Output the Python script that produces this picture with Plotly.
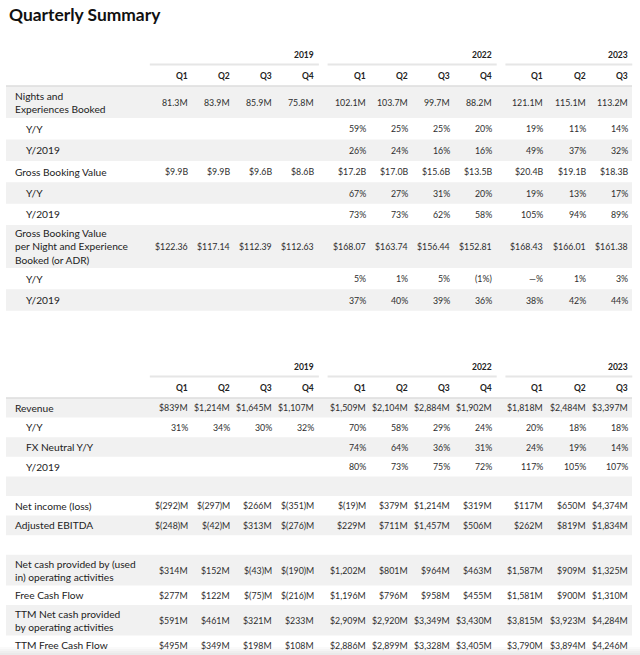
import plotly.graph_objects as go

# column headers
years = ["2019", "2022", "2023"]
year_quarters = [["Q1", "Q2", "Q3", "Q4"], ["Q1", "Q2", "Q3", "Q4"], ["Q1", "Q2", "Q3"]]

# table 1: bookings
nights_booked = ["81.3M", "83.9M", "85.9M", "75.8M", "102.1M", "103.7M", "99.7M", "88.2M", "121.1M", "115.1M", "113.2M"]
nights_yy = ["", "", "", "", "59%", "25%", "25%", "20%", "19%", "11%", "14%"]
nights_y2019 = ["", "", "", "", "26%", "24%", "16%", "16%", "49%", "37%", "32%"]
gbv = ["$9.9B", "$9.9B", "$9.6B", "$8.6B", "$17.2B", "$17.0B", "$15.6B", "$13.5B", "$20.4B", "$19.1B", "$18.3B"]
gbv_yy = ["", "", "", "", "67%", "27%", "31%", "20%", "19%", "13%", "17%"]
gbv_y2019 = ["", "", "", "", "73%", "73%", "62%", "58%", "105%", "94%", "89%"]
adr = ["$122.36", "$117.14", "$112.39", "$112.63", "$168.07", "$163.74", "$156.44", "$152.81", "$168.43", "$166.01", "$161.38"]
adr_yy = ["", "", "", "", "5%", "1%", "5%", "(1%)", "—%", "1%", "3%"]
adr_y2019 = ["", "", "", "", "37%", "40%", "39%", "36%", "38%", "42%", "44%"]

# table 2: financials
revenue = ["$839M", "$1,214M", "$1,645M", "$1,107M", "$1,509M", "$2,104M", "$2,884M", "$1,902M", "$1,818M", "$2,484M", "$3,397M"]
revenue_yy = ["31%", "34%", "30%", "32%", "70%", "58%", "29%", "24%", "20%", "18%", "18%"]
revenue_fx_yy = ["", "", "", "", "74%", "64%", "36%", "31%", "24%", "19%", "14%"]
revenue_y2019 = ["", "", "", "", "80%", "73%", "75%", "72%", "117%", "105%", "107%"]
net_income = ["$(292)M", "$(297)M", "$266M", "$(351)M", "$(19)M", "$379M", "$1,214M", "$319M", "$117M", "$650M", "$4,374M"]
adj_ebitda = ["$(248)M", "$(42)M", "$313M", "$(276)M", "$229M", "$711M", "$1,457M", "$506M", "$262M", "$819M", "$1,834M"]
op_cash = ["$314M", "$152M", "$(43)M", "$(190)M", "$1,202M", "$801M", "$964M", "$463M", "$1,587M", "$909M", "$1,325M"]
fcf = ["$277M", "$122M", "$(75)M", "$(216)M", "$1,196M", "$796M", "$958M", "$455M", "$1,581M", "$900M", "$1,310M"]
ttm_op_cash = ["$591M", "$461M", "$321M", "$233M", "$2,909M", "$2,920M", "$3,349M", "$3,430M", "$3,815M", "$3,923M", "$4,284M"]
ttm_fcf = ["$495M", "$349M", "$198M", "$108M", "$2,886M", "$2,899M", "$3,328M", "$3,405M", "$3,790M", "$3,894M", "$4,246M"]

empty = [""] * 11

# (label, values, indented)
table1 = [
    ("Nights and<br>Experiences Booked", nights_booked, False),
    ("Y/Y", nights_yy, True),
    ("Y/2019", nights_y2019, True),
    ("Gross Booking Value", gbv, False),
    ("Y/Y", gbv_yy, True),
    ("Y/2019", gbv_y2019, True),
    ("Gross Booking Value<br>per Night and Experience<br>Booked (or ADR)", adr, False),
    ("Y/Y", adr_yy, True),
    ("Y/2019", adr_y2019, True),
]
table2 = [
    ("Revenue", revenue, False),
    ("Y/Y", revenue_yy, True),
    ("FX Neutral Y/Y", revenue_fx_yy, True),
    ("Y/2019", revenue_y2019, True),
    ("", empty, False),
    ("Net income (loss)", net_income, False),
    ("Adjusted EBITDA", adj_ebitda, False),
    ("", empty, False),
    ("Net cash provided by (used<br>in) operating activities", op_cash, False),
    ("Free Cash Flow", fcf, False),
    ("TTM Net cash provided<br>by operating activities", ttm_op_cash, False),
    ("TTM Free Cash Flow", ttm_fcf, False),
]

FONT = "Lato"
GRAY = "#f1f1f1"
LEFT, RIGHT = 6, 632
COL_W, GROUP_GAP, FIRST_RIGHT = 42.2, 9.0, 188.8

# right edge of each quarter column
col_right = []
group_cols = []
x = FIRST_RIGHT
for g, qs in enumerate(year_quarters):
    cols = []
    for q in qs:
        cols.append(x)
        x += COL_W
    x += GROUP_GAP
    group_cols.append(cols)
    col_right.extend(cols)

fig = go.Figure()
shapes = []
annotations = []


def txt(x, y, text, size, color="#222", bold=False, anchor="right", family=FONT):
    if bold:
        text = "<b>" + text + "</b>"
    annotations.append(dict(
        x=x, y=y, xref="x", yref="y", text=text, showarrow=False,
        xanchor=anchor, yanchor="middle", align="left",
        font=dict(family=family, size=size, color=color),
    ))


def draw_table(rows, top, single_h, line_h):
    # year header + underline
    for yr, cols in zip(years, group_cols):
        txt(cols[-1] + 1, top + 10, yr, 8.5, bold=True)
        shapes.append(dict(type="line", x0=cols[0] - 39, x1=cols[-1] + 3.5,
                           y0=top + 19.5, y1=top + 19.5, line=dict(color="#e6e6e6", width=2)))
    # quarter header
    for qs, cols in zip(year_quarters, group_cols):
        for q, cx in zip(qs, cols):
            txt(cx + 1, top + 31, q, 8.5, bold=True)
    y = top + 41
    shapes.append(dict(type="line", x0=LEFT, x1=RIGHT, y0=y, y1=y,
                       line=dict(color="#dcdcdc", width=1.5)))
    for i, (label, vals, indent) in enumerate(rows):
        n = label.count("<br>") + 1
        h = single_h + (n - 1) * line_h
        if i % 2 == 0:
            shapes.append(dict(type="rect", x0=LEFT, x1=RIGHT, y0=y, y1=y + h,
                               fillcolor=GRAY, line=dict(width=0), layer="below"))
        mid = y + h / 2
        if label:
            txt(24 if indent else 13, mid, label, 10.2, anchor="left")
        for v, cx in zip(vals, col_right):
            if v:
                txt(cx + 1, mid, v, 8.8, color="#2e2e2e")
        y += h
    return y


draw_table(table1, 45, 21.4, 10.7)
draw_table(table2, 357, 19.6, 11.0)

# soft shadow at the bottom edge
for k, c in enumerate(["#fafafa", "#f5f5f5", "#efefef", "#eaeaea"]):
    shapes.append(dict(type="rect", x0=0, x1=640, y0=647 + 2 * k, y1=655,
                       fillcolor=c, line=dict(width=0), layer="below"))

txt(7, 14, "Quarterly Summary", 17.4, color="#111", bold=True, anchor="left")

fig.add_trace(go.Scatter(x=[0, 640], y=[0, 655], mode="markers",
                         marker=dict(opacity=0), hoverinfo="skip", showlegend=False))
fig.update_layout(
    width=640, height=655,
    margin=dict(l=0, r=0, t=0, b=0),
    paper_bgcolor="white", plot_bgcolor="white",
    xaxis=dict(range=[0, 640], visible=False, fixedrange=True),
    yaxis=dict(range=[655, 0], visible=False, fixedrange=True),
    shapes=shapes, annotations=annotations,
    showlegend=False,
)
# drop the default page margin so the figure sits at the window's corner
fig.write_html("out.html", config={"displayModeBar": False},
               post_script="document.body.style.margin='0';")
